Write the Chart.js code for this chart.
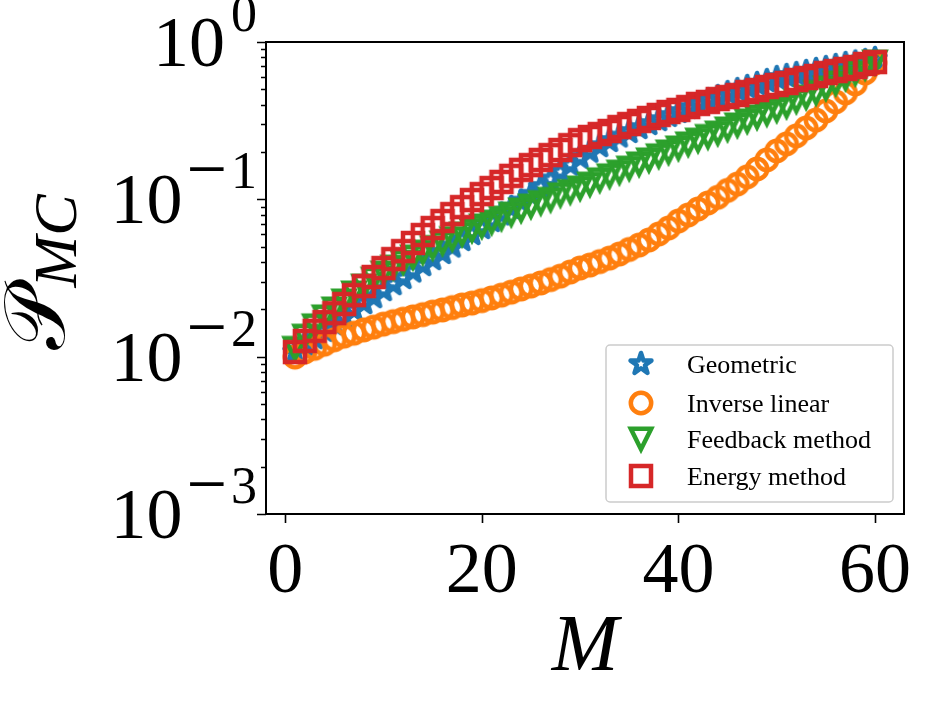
<!DOCTYPE html>
<html>
<head>
<meta charset="utf-8">
<script src="https://cdn.jsdelivr.net/npm/chart.js@4.4.0/dist/chart.umd.min.js"></script>
<style>
  html, body { margin: 0; padding: 0; background: #fff; }
  #wrap { width: 930px; height: 705px; }
</style>
</head>
<body>
<div id="wrap"><canvas id="myChart" width="930" height="705"></canvas></div>
<script>
// Data (M = 1..60)
const mValues = [1, 2, 3, 4, 5, 6, 7, 8, 9, 10, 11, 12, 13, 14, 15, 16, 17, 18, 19, 20,
  21, 22, 23, 24, 25, 26, 27, 28, 29, 30, 31, 32, 33, 34, 35, 36, 37, 38, 39, 40,
  41, 42, 43, 44, 45, 46, 47, 48, 49, 50, 51, 52, 53, 54, 55, 56, 57, 58, 59, 60];

const geometric = [0.0107, 0.0119, 0.0131, 0.0146, 0.0161, 0.0179, 0.0198, 0.0219, 0.0239, 0.0265,
  0.0289, 0.0316, 0.0348, 0.0382, 0.0417, 0.0456, 0.0501, 0.0551, 0.0602, 0.0657,
  0.0728, 0.0801, 0.0881, 0.0968, 0.107, 0.120, 0.134, 0.149, 0.166, 0.184,
  0.201, 0.218, 0.235, 0.251, 0.268, 0.284, 0.301, 0.319, 0.339, 0.359,
  0.381, 0.404, 0.425, 0.447, 0.474, 0.495, 0.518, 0.541, 0.565, 0.590,
  0.608, 0.626, 0.645, 0.664, 0.683, 0.704, 0.725, 0.741, 0.757, 0.780];

const inverseLinear = [0.00994, 0.0107, 0.0113, 0.0120, 0.0128, 0.0135, 0.0141, 0.0148, 0.0154, 0.0161,
  0.0167, 0.0173, 0.0179, 0.0185, 0.0192, 0.0198, 0.0205, 0.0213, 0.0219, 0.0227,
  0.0236, 0.0246, 0.0257, 0.0269, 0.0281, 0.0294, 0.0309, 0.0325, 0.0345, 0.0366,
  0.0382, 0.0402, 0.0423, 0.0449, 0.0480, 0.0512, 0.0551, 0.0602, 0.0657, 0.0728,
  0.0795, 0.0868, 0.0947, 0.103, 0.114, 0.125, 0.139, 0.156, 0.178, 0.203,
  0.225, 0.253, 0.284, 0.319, 0.364, 0.416, 0.474, 0.541, 0.635, 0.736];

const feedback = [0.0113, 0.0135, 0.0157, 0.0179, 0.0201, 0.0226, 0.0254, 0.0281, 0.0311, 0.0340,
  0.0371, 0.0399, 0.0430, 0.0462, 0.0494, 0.0528, 0.0563, 0.0602, 0.0638, 0.0677,
  0.0717, 0.0760, 0.0806, 0.0855, 0.0907, 0.0954, 0.100, 0.107, 0.112, 0.118,
  0.125, 0.133, 0.141, 0.149, 0.158, 0.168, 0.178, 0.189, 0.200, 0.212,
  0.225, 0.238, 0.251, 0.264, 0.280, 0.297, 0.315, 0.334, 0.351, 0.370,
  0.392, 0.422, 0.447, 0.478, 0.510, 0.549, 0.590, 0.635, 0.689, 0.746];

const energy = [0.0107, 0.0126, 0.0146, 0.0166, 0.0189, 0.0216, 0.0246, 0.0281, 0.0321, 0.0366,
  0.0417, 0.0469, 0.0528, 0.0593, 0.0657, 0.0728, 0.0806, 0.0893, 0.0990, 0.108,
  0.118, 0.129, 0.141, 0.154, 0.165, 0.178, 0.191, 0.206, 0.221, 0.238,
  0.249, 0.260, 0.272, 0.288, 0.301, 0.315, 0.329, 0.344, 0.359, 0.370,
  0.386, 0.404, 0.416, 0.434, 0.447, 0.460, 0.481, 0.495, 0.518, 0.533,
  0.549, 0.573, 0.590, 0.608, 0.635, 0.654, 0.674, 0.694, 0.725, 0.746];

const seriesNames = ['Geometric', 'Inverse linear', 'Feedback method', 'Energy method'];
const seriesColors = ['#1f77b4', '#ff7f0e', '#2ca02c', '#d62728'];
const seriesShapes = ['star', 'circle', 'triangleDown', 'square'];

const xTicks = [0, 20, 40, 60];
const yTicks = [0.001, 0.01, 0.1, 1];
const yTickExponents = ['3', '2', '1', '0'];
const yTickNegative = [true, true, true, false];

const serif = '"Liberation Serif", "DejaVu Serif", serif';

// hollow matplotlib-like markers drawn into small canvases
function makeMarker(shape, color) {
    const c = document.createElement('canvas');
    c.width = 36;
    c.height = 36;
    const g = c.getContext('2d');
    g.translate(18, 18);
    g.strokeStyle = color;
    g.lineWidth = 4.5;
    g.lineJoin = 'miter';
    g.beginPath();
    if (shape === 'star') {
        for (let i = 0; i < 10; i++) {
            const r = i % 2 ? 11 * 0.381966 : 11;
            const a = -Math.PI / 2 + i * Math.PI / 5;
            const px = r * Math.cos(a), py = r * Math.sin(a);
            if (i === 0) g.moveTo(px, py); else g.lineTo(px, py);
        }
        g.closePath();
        g.lineJoin = 'round';
    } else if (shape === 'circle') {
        g.arc(0, 0, 10.2, 0, Math.PI * 2);
    } else if (shape === 'triangleDown') {
        g.moveTo(0, 10.2);
        g.lineTo(-10.2, -10.2);
        g.lineTo(10.2, -10.2);
        g.closePath();
    } else {
        g.rect(-10, -10, 20, 20);
    }
    g.stroke();
    return c;
}

const markers = seriesShapes.map((s, i) => makeMarker(s, seriesColors[i]));
const seriesValues = [geometric, inverseLinear, feedback, energy];

const datasets = seriesValues.map((vals, i) => ({
    label: seriesNames[i],
    data: mValues.map((m, j) => ({ x: m, y: vals[j] })),
    showLine: false,
    pointStyle: markers[i],
    pointRadius: 12,
    borderColor: seriesColors[i],
    backgroundColor: 'rgba(0,0,0,0)',
    order: 4 - i,   // red drawn last (on top)
    clip: false
}));

// axes, ticks, labels and legend
const axesPlugin = {
    id: 'mplAxes',
    afterDraw(chart) {
        const ctx = chart.ctx;
        const area = chart.chartArea;
        const xs = chart.scales.x, ys = chart.scales.y;
        ctx.save();
        ctx.strokeStyle = '#000';
        ctx.fillStyle = '#000';

        // ticks
        ctx.lineWidth = 1.6;
        ctx.beginPath();
        xTicks.forEach(v => {
            const px = Math.round(xs.getPixelForValue(v)) + 0.5;
            ctx.moveTo(px, area.bottom);
            ctx.lineTo(px, area.bottom + 9);
        });
        for (let e = -3; e <= 0; e++) {
            for (let k = 1; k <= 9; k++) {
                const v = k * Math.pow(10, e);
                if (v > 1.0001) continue;
                const py = Math.round(ys.getPixelForValue(v)) + 0.5;
                ctx.moveTo(area.left, py);
                ctx.lineTo(area.left - (k === 1 ? 9 : 5), py);
            }
        }
        ctx.stroke();

        // spines
        ctx.lineWidth = 2;
        ctx.strokeRect(area.left, area.top, area.right - area.left, area.bottom - area.top);

        // x tick labels
        ctx.font = '72px ' + serif;
        ctx.textAlign = 'center';
        ctx.textBaseline = 'alphabetic';
        xTicks.forEach(v => ctx.fillText(String(v), xs.getPixelForValue(v), 592));

        // y tick labels 10^k
        ctx.textAlign = 'right';
        yTicks.forEach((v, i) => {
            const py = ys.getPixelForValue(v);
            const supBase = py + 24 - 35;
            let x = 257;
            ctx.font = '52px ' + serif;
            ctx.fillText(yTickExponents[i], x, supBase);
            x -= ctx.measureText(yTickExponents[i]).width + 4;
            if (yTickNegative[i]) {
                ctx.font = '72px ' + serif;
                ctx.fillText('\u2212', x, supBase + 5);
                x -= ctx.measureText('\u2212').width + 2;
            }
            ctx.font = '72px ' + serif;
            ctx.fillText('10', x - 2, py + 24);
        });

        // x title
        ctx.textAlign = 'center';
        ctx.font = 'italic 80px ' + serif;
        ctx.fillText('M', (area.left + area.right) / 2, 670);

        // y title (rotated)
        ctx.save();
        ctx.font = '86px ' + serif;
        const pW = ctx.measureText('\uD835\uDCAB').width;
        ctx.font = 'italic 62px ' + serif;
        const subW = ctx.measureText('MC').width;
        const total = pW + subW;
        ctx.translate(64, 272);
        ctx.rotate(-Math.PI / 2);
        ctx.textAlign = 'left';
        ctx.font = '86px ' + serif;
        ctx.fillText('\uD835\uDCAB', -total / 2, 0);
        ctx.font = 'italic 62px ' + serif;
        ctx.fillText('MC', -total / 2 + pW, 12);
        ctx.restore();

        // legend
        const lx = 606, ly = 345, lw = 287, lh = 157;
        ctx.beginPath();
        ctx.roundRect(lx, ly, lw, lh, 4);
        ctx.fillStyle = 'rgba(255,255,255,0.8)';
        ctx.fill();
        ctx.strokeStyle = '#cccccc';
        ctx.lineWidth = 1.5;
        ctx.stroke();
        const rows = [364, 403, 439, 476];
        ctx.fillStyle = '#000';
        ctx.font = '26px ' + serif;
        ctx.textAlign = 'left';
        seriesNames.forEach((name, i) => {
            ctx.drawImage(markers[i], 641 - 18, rows[i] - 18);
            ctx.fillText(name, 687, rows[i] + 9);
        });
        ctx.restore();
    }
};

const ctx = document.getElementById('myChart').getContext('2d');
const myChart = new Chart(ctx, {
    type: 'scatter',
    data: { datasets: datasets },
    options: {
        responsive: false,
        animation: false,
        devicePixelRatio: 1,
        events: [],
        layout: { padding: { left: 266, right: 26, top: 42, bottom: 191 } },
        scales: {
            x: { type: 'linear', display: false, min: -1.95, max: 62.95 },
            y: { type: 'logarithmic', display: false, min: 0.001, max: 1 }
        },
        plugins: { legend: { display: false }, tooltip: { enabled: false } }
    },
    plugins: [axesPlugin]
});
</script>
</body>
</html>
